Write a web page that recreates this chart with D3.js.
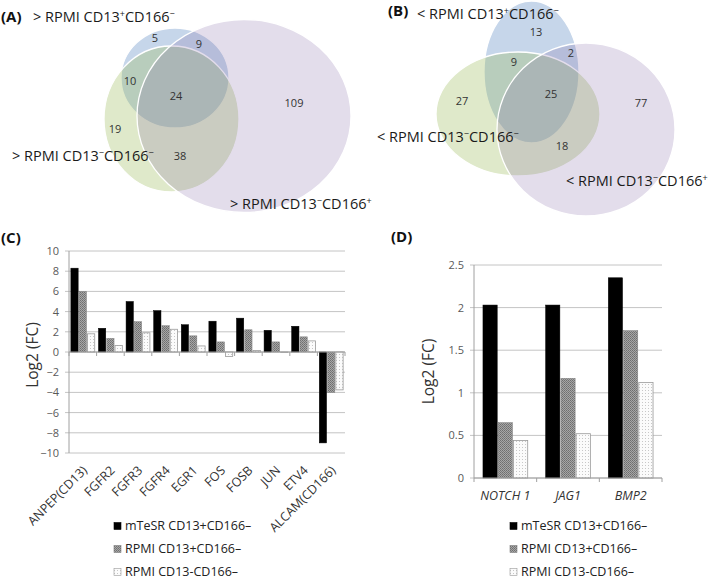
<!DOCTYPE html>
<html>
<head>
<meta charset="utf-8">
<script src="https://cdn.jsdelivr.net/npm/d3@7"></script>
<style>
  body { margin: 0; background: #fff; }
  text { font-family: "Open Sans", "Noto Sans", sans-serif; }
</style>
</head>
<body>
<div id="chart"></div>
<script>
// Venn counts (A: up, B: down)
var vennA = [5, 9, 10, 24, 109, 19, 38];
var vennB = [13, 2, 9, 25, 77, 27, 18];

// panel C
var genesC = ["ANPEP(CD13)", "FGFR2", "FGFR3", "FGFR4", "EGR1", "FOS", "FOSB", "JUN", "ETV4", "ALCAM(CD166)"];
var mtesrC = [8.3, 2.35, 5.0, 4.1, 2.7, 3.05, 3.35, 2.15, 2.55, -9.0];
var rpmiPosC = [6.0, 1.35, 3.0, 2.6, 1.6, 1.0, 2.2, 1.0, 1.5, -4.0];
var rpmiNegC = [1.8, 0.65, 1.9, 2.25, 0.6, -0.45, 0.15, -0.05, 1.1, -3.75];
var ticksC = [-10, -8, -6, -4, -2, 0, 2, 4, 6, 8, 10];

// panel D
var genesD = ["NOTCH 1", "JAG1", "BMP2"];
var mtesrD = [2.03, 2.03, 2.35];
var rpmiPosD = [0.65, 1.17, 1.73];
var rpmiNegD = [0.44, 0.52, 1.12];
var ticksD = [0, 0.5, 1, 1.5, 2, 2.5];

var seriesNames = ["mTeSR CD13+CD166\u2013", "RPMI CD13+CD166\u2013", "RPMI CD13-CD166\u2013"];

var W = 709, H = 581;
var svg = d3.select("#chart").append("svg")
    .attr("width", W)
    .attr("height", H);
svg.append("rect").attr("width", W).attr("height", H).attr("fill", "#fff");

var defs = svg.append("defs");
var hatch = defs.append("pattern").attr("id", "hatch")
    .attr("width", 2).attr("height", 2).attr("patternUnits", "userSpaceOnUse");
hatch.append("rect").attr("width", 2).attr("height", 2).attr("fill", "#a6a6a6");
hatch.append("rect").attr("width", 1).attr("height", 1).attr("fill", "#6e6e6e");
hatch.append("rect").attr("x", 1).attr("y", 1).attr("width", 1).attr("height", 1).attr("fill", "#7a7a7a");
var dots = defs.append("pattern").attr("id", "dots")
    .attr("width", 3).attr("height", 3).attr("patternUnits", "userSpaceOnUse");
dots.append("rect").attr("width", 3).attr("height", 3).attr("fill", "#fbfbfb");
dots.append("rect").attr("width", 1).attr("height", 1).attr("fill", "#c8c8c8");

var fills = ["#000", "url(#hatch)", "url(#dots)"];
var strokes = ["#000", "#7f7f7f", "#9a9a9a"];

// panel letters
function panelLabel(x, y, t) {
  svg.append("text").attr("x", x).attr("y", y).text(t)
    .attr("font-size", 15).attr("font-weight", "bold").attr("fill", "#111");
}
panelLabel(1, 22, "(A)");
panelLabel(388, 16, "(B)");
panelLabel(1, 243, "(C)");
panelLabel(391, 242, "(D)");

// ---------- Venn diagrams ----------
var vennColors = [
  {fill: "#4f81bd", op: 0.32},
  {fill: "#9bbb59", op: 0.32},
  {fill: "#8064a2", op: 0.22}
];

function venn(shapes, counts, spots, labels) {
  var g = svg.append("g");
  g.selectAll("ellipse").data(shapes).join("ellipse")
    .attr("cx", d => d[0]).attr("cy", d => d[1])
    .attr("rx", d => d[2]).attr("ry", d => d[3])
    .attr("fill", (d, i) => vennColors[i].fill)
    .attr("fill-opacity", (d, i) => vennColors[i].op)
    .attr("stroke", "#fff").attr("stroke-width", 1.3);
  g.selectAll("text.n").data(counts).join("text")
    .attr("class", "n")
    .attr("x", (d, i) => spots[i][0]).attr("y", (d, i) => spots[i][1])
    .attr("dy", "0.35em").attr("text-anchor", "middle")
    .attr("font-size", 11).attr("fill", "#333")
    .text(d => d);
  labels.forEach(function (l) {
    var t = g.append("text").attr("x", l.x).attr("y", l.y)
      .attr("font-size", 14.5).attr("fill", "#1a1a1a");
    t.append("tspan").text(l.pre + " RPMI CD13");
    t.append("tspan").attr("dy", -5).attr("font-size", 9).text(l.s1);
    t.append("tspan").attr("dy", 5).text("CD166");
    t.append("tspan").attr("dy", -5).attr("font-size", 9).text(l.s2);
  });
}

venn(
  [[175, 78, 54, 50], [171.5, 119, 67.5, 73], [244, 116, 107, 96.5]],
  vennA,
  [[155, 38], [199, 44], [130, 81], [176, 96], [294, 103], [115, 129], [180, 156]],
  [{x: 33, y: 22, pre: ">", s1: "+", s2: "\u2212"},
   {x: 12, y: 161, pre: ">", s1: "\u2212", s2: "\u2212"},
   {x: 230, y: 209, pre: ">", s1: "\u2212", s2: "+"}]
);

venn(
  [[531.5, 72, 47.5, 71], [518, 114, 82, 62], [586, 129.5, 89, 86.5]],
  vennB,
  [[536, 32], [571, 53], [514, 62], [551, 94], [641, 103], [462, 101], [562, 146]],
  [{x: 417, y: 19, pre: "<", s1: "+", s2: "\u2212"},
   {x: 377, y: 142, pre: "<", s1: "\u2212", s2: "\u2212"},
   {x: 566, y: 186, pre: "<", s1: "\u2212", s2: "+"}]
);

// ---------- bar charts ----------
function barChart(o) {
  var g = svg.append("g");
  var x = d3.scaleBand().domain(o.cats).range([o.x0, o.x1])
    .paddingInner(o.padIn).paddingOuter(o.padOut);
  var xs = d3.scaleBand().domain([0, 1, 2]).range([0, x.bandwidth()]);
  var y = d3.scaleLinear().domain(o.domain).range([o.y0, o.y1]);

  // grid
  g.selectAll("line.grid").data(o.ticks).join("line")
    .attr("x1", o.x0 - 4).attr("x2", o.x1)
    .attr("y1", d => y(d)).attr("y2", d => y(d))
    .attr("stroke", "#c4c4c4").attr("stroke-width", 1);
  g.append("line").attr("x1", o.x0).attr("x2", o.x0)
    .attr("y1", y(o.domain[0])).attr("y2", y(o.domain[1]))
    .attr("stroke", "#a0a0a0");

  // y tick labels
  var yAxis = d3.axisLeft(y).tickValues(o.ticks).tickSize(0).tickPadding(0)
    .tickFormat(d => d < 0 ? "\u2212" + Math.abs(d) : d);
  var ya = g.append("g").attr("transform", "translate(" + (o.x0 - 10) + ",0)").call(yAxis);
  ya.select(".domain").remove();
  ya.selectAll("text").attr("font-size", 11).attr("fill", "#595959")
    .attr("font-family", "Open Sans, sans-serif");

  var series = [o.s0, o.s1, o.s2];
  series.forEach(function (vals, si) {
    g.selectAll("rect.s" + si).data(vals).join("rect")
      .attr("x", (d, i) => x(o.cats[i]) + xs(si) + 0.5)
      .attr("width", xs.bandwidth() - 1)
      .attr("y", d => y(Math.max(0, d)))
      .attr("height", d => Math.abs(y(d) - y(0)))
      .attr("fill", fills[si])
      .attr("stroke", strokes[si]).attr("stroke-width", si === 2 ? 0.8 : 0.5);
  });

  // category axis at zero
  g.append("line").attr("x1", o.x0).attr("x2", o.x1)
    .attr("y1", y(0)).attr("y2", y(0)).attr("stroke", "#a0a0a0");
  var bounds = d3.range(o.cats.length + 1).map(k => o.x0 + k * x.step());
  g.selectAll("line.tk").data(bounds).join("line")
    .attr("x1", d => d).attr("x2", d => d)
    .attr("y1", y(0)).attr("y2", y(0) + 4)
    .attr("stroke", "#a0a0a0");

  // axis title
  g.append("text")
    .attr("transform", "translate(" + o.titleX + "," + ((o.y0 + o.y1) / 2 + o.titleDy) + ") rotate(-90)")
    .attr("text-anchor", "middle").attr("font-size", 15.5).attr("fill", "#333")
    .text("Log2 (FC)");

  // legend
  var lg = g.append("g");
  seriesNames.forEach(function (nm, i) {
    var yy = o.legY + i * 23;
    lg.append("rect").attr("x", o.legX).attr("y", yy - 3.5).attr("width", 7).attr("height", 7)
      .attr("fill", fills[i]).attr("stroke", strokes[i]).attr("stroke-width", 0.6);
    lg.append("text").attr("x", o.legX + 11).attr("y", yy).attr("dy", "0.35em")
      .attr("font-size", 12.5).attr("fill", "#222").text(nm);
  });
  return {x: x, y: y, g: g};
}

var C = barChart({
  cats: genesC, s0: mtesrC, s1: rpmiPosC, s2: rpmiNegC,
  x0: 69, x1: 345, padIn: 0.1, padOut: 0.05,
  domain: [-10, 10], y0: 453, y1: 251, ticks: ticksC,
  titleX: 38, titleDy: 3, legX: 114, legY: 526
});
C.g.selectAll("text.xl").data(genesC).join("text")
  .attr("class", "xl")
  .attr("transform", d => "translate(" + (C.x(d) + C.x.bandwidth() / 2 - 1) + ",465) rotate(-45)")
  .attr("text-anchor", "end").attr("dy", "0.7em")
  .attr("font-size", 12.5).attr("fill", "#333")
  .text(d => d);

var D = barChart({
  cats: genesD, s0: mtesrD, s1: rpmiPosD, s2: rpmiNegD,
  x0: 474, x1: 662, padIn: 0.27, padOut: 0.135,
  domain: [0, 2.5], y0: 478, y1: 265, ticks: ticksD,
  titleX: 434, titleDy: 0, legX: 510, legY: 526
});
D.g.selectAll("text.xl").data(genesD).join("text")
  .attr("class", "xl")
  .attr("x", d => D.x(d) + D.x.bandwidth() / 2)
  .attr("y", 500)
  .attr("text-anchor", "middle").attr("font-style", "italic")
  .attr("font-size", 12.5).attr("fill", "#333")
  .text(d => d);
</script>
</body>
</html>
